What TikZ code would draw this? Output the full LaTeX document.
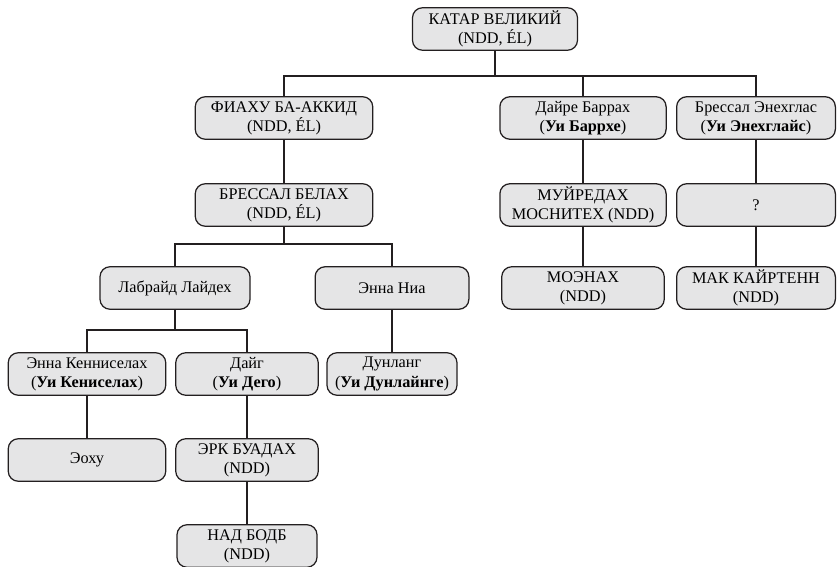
\documentclass[tikz,border=0pt]{standalone}
\usepackage{fontspec}
\setmainfont{Liberation Serif}
\definecolor{boxgray}{HTML}{E5E5E6}
\definecolor{linegray}{HTML}{231F20}
\begin{document}
\begin{tikzpicture}[x=0.8pt,y=-0.8pt,
				every node/.style={font=\fontsize{13}{15.4}\selectfont},
				person/.style={draw=linegray,line width=1pt,fill=boxgray,rounded corners=8pt,
					align=center,minimum height=34pt,minimum width=122pt,inner sep=2pt},
				link/.style={draw=linegray,line width=2.1pt}
]
\useasboundingbox (0,0) rectangle (837,566);
\node[person,minimum width=132pt] (katar) at (495,29) {КАТАР ВЕЛИКИЙ\\(NDD, ÉL)};
\node[person,minimum width=142pt] (fiachu) at (284,118) {ФИАХУ БА-АККИД\\(NDD, ÉL)};
\node[person,minimum width=142pt] (bressalb) at (284,205) {БРЕССАЛ БЕЛАХ\\(NDD, ÉL)};
\node[person,minimum width=133pt] (daire) at (583,118) {Дайре Баррах\\(\textbf{Уи Баррхе})};
\node[person,minimum width=127pt] (bressale) at (756,118) {Брессал Энехглас\\(\textbf{Уи Энехглайс})};
\node[person,minimum width=133pt] (muir) at (583,205) {МУЙРЕДАХ\\МОСНИТЕХ (NDD)};
\node[person,minimum width=127pt] (unknown) at (756,205) {?};
\node[person,minimum width=130pt] (moenach) at (583,288) {МОЭНАХ\\(NDD)};
\node[person,minimum width=127pt] (mac) at (756,288) {МАК КАЙРТЕНН\\(NDD)};
\node[person,minimum width=120pt] (labraid) at (175,288) {Лабрайд Лайдех};
\node[person,minimum width=123pt] (ennania) at (392,288) {Энна Ниа};
\node[person,minimum width=126pt] (ennak) at (87,374) {Энна Кенниселах\\(\textbf{Уи Кениселах})};
\node[person,minimum width=114pt] (daig) at (247,374) {Дайг\\(\textbf{Уи Дего})};
\node[person,minimum width=104pt] (dunlang) at (392,374) {Дунланг\\(\textbf{Уи Дунлайнге})};
\node[person,minimum width=126pt] (eochu) at (87,460) {Эоху};
\node[person,minimum width=114pt] (erc) at (247,460) {ЭРК БУАДАХ\\(NDD)};
\node[person,minimum width=112pt] (nad) at (247,546) {НАД БОДБ\\(NDD)};
\draw[link] (katar.south) -- +(0,25) -| (fiachu.north);
\draw[link] (katar.south) -- +(0,25) -| (daire.north);
\draw[link] (katar.south) -- +(0,25) -| (bressale.north);
\draw[link] (fiachu) -- (bressalb);
\draw[link] (daire) -- (muir);
\draw[link] (muir) -- (moenach);
\draw[link] (bressale) -- (unknown);
\draw[link] (unknown) -- (mac);
\draw[link] (bressalb.south) -- +(0,17) -| (labraid.north);
\draw[link] (bressalb.south) -- +(0,17) -| (ennania.north);
\draw[link] (labraid.south) -- +(0,20) -| (ennak.north);
\draw[link] (labraid.south) -- +(0,20) -| (daig.north);
\draw[link] (ennania) -- (dunlang);
\draw[link] (ennak) -- (eochu);
\draw[link] (daig) -- (erc);
\draw[link] (erc) -- (nad);
\end{tikzpicture}
\end{document}
